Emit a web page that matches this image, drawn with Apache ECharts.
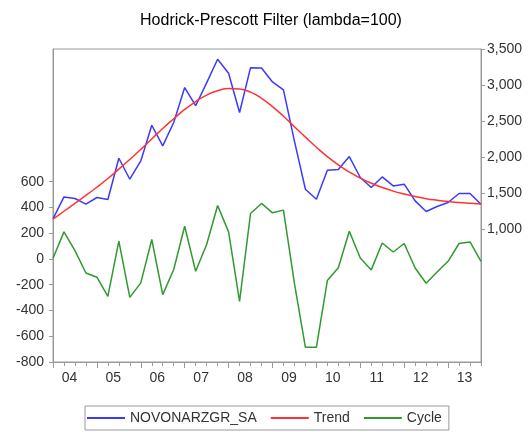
<!DOCTYPE html>
<html>
<head>
<meta charset="utf-8">
<script src="https://cdn.jsdelivr.net/npm/echarts@6/dist/echarts.min.js"></script>
<style>
  html, body { margin: 0; padding: 0; background: #fff; }
  #main { width: 531px; height: 432px; }
</style>
</head>
<body>
<div id="main"></div>
<script>
// year labels on the x axis (2004Q1 .. 2013Q4, quarterly)
const years = ["04", "05", "06", "07", "08", "09", "10", "11", "12", "13"];
const quarters = [];
years.forEach((y) => {
  ["Q1", "Q2", "Q3", "Q4"].forEach((q) => quarters.push("20" + y + q));
});

const seriesSA = [
  1140, 1444, 1422, 1343, 1436, 1408, 1982, 1690, 1944, 2440,
  2153, 2478, 2964, 2712, 3030, 3357, 3162, 2617, 3241, 3236,
  3042, 2931, 2220, 1551, 1412, 1815, 1825, 2005, 1714, 1575,
  1722, 1597, 1621, 1389, 1242, 1311, 1367, 1492, 1492, 1343,
];
const trend = [
  1135, 1245, 1355, 1465, 1580, 1700, 1830, 1965, 2105, 2250,
  2395, 2530, 2660, 2770, 2860, 2920, 2950, 2945, 2900, 2815,
  2700, 2565, 2420, 2275, 2135, 2005, 1890, 1790, 1705, 1635,
  1575, 1525, 1485, 1450, 1420, 1398, 1380, 1366, 1355, 1345,
];
const cycle = [
  5, 210, 65, -109, -142, -290, 138, -298, -186, 151,
  -277, -82, 254, -96, 112, 415, 210, -329, 353, 431,
  358, 379, -190, -686, -686, -168, -68, 215, 8, -85,
  124, 54, 120, -70, -189, -101, -18, 120, 132, -18,
];

const leftTicks = [-800, -600, -400, -200, 0, 200, 400, 600];
const rightTicks = [1000, 1500, 2000, 2500, 3000, 3500];

const toPairs = (arr) => arr.map((v, i) => [i, v]);
const quarterTicks = quarters.map((q, i) => i);
const yearTicks = years.map((y, i) => i * 4);
const yearLabelPos = years.map((y, i) => i * 4 + 1.5);

const axisGray = "#9a9a9a";
const labelColor = "#333";
const font = "Liberation Sans, Arial, sans-serif";

const chart = echarts.init(document.getElementById("main"));
const option = {
  animation: false,
  title: {
    text: "Hodrick-Prescott Filter (lambda=100)",
    left: 266,
    textAlign: "center",
    top: 8,
    textStyle: { fontSize: 16, fontWeight: "normal", color: "#000", fontFamily: font },
  },
  grid: {
    left: 53,
    right: 50,
    top: 49,
    bottom: 70,
    show: true,
    borderColor: axisGray,
    borderWidth: 1,
  },
  legend: {
    left: 85,
    top: 406,
    padding: [5, 7, 5, 2],
    itemGap: 14,
    itemWidth: 38,
    itemHeight: 2,
    icon: "rect",
    borderColor: axisGray,
    borderWidth: 1,
    borderRadius: 0,
    textStyle: { fontSize: 14, color: labelColor, fontFamily: font },
    data: ["NOVONARZGR_SA", "Trend", "Cycle"],
  },
  xAxis: [
    {
      type: "value",
      min: 0,
      max: quarters.length - 1,
      axisLine: { onZero: false, lineStyle: { color: axisGray } },
      axisTick: { customValues: quarterTicks, length: 4, lineStyle: { color: axisGray } },
      axisLabel: {
        customValues: yearLabelPos,
        formatter: (v) => years[Math.floor(v / 4)],
        color: labelColor,
        fontSize: 14,
        fontFamily: font,
        margin: 9,
      },
      splitLine: { show: false },
    },
    {
      type: "value",
      min: 0,
      max: quarters.length - 1,
      position: "bottom",
      axisLine: { show: false, onZero: false },
      axisTick: { customValues: yearTicks, length: 6, lineStyle: { color: axisGray } },
      axisLabel: { show: false },
      splitLine: { show: false },
    },
  ],
  yAxis: [
    {
      type: "value",
      position: "left",
      min: -800,
      max: 1630,
      axisLine: { show: true, onZero: false, lineStyle: { color: axisGray } },
      axisTick: { show: true, customValues: leftTicks, length: 4, lineStyle: { color: axisGray } },
      axisLabel: { customValues: leftTicks, color: labelColor, fontSize: 14, fontFamily: font, margin: 9 },
      splitLine: { show: false },
    },
    {
      type: "value",
      position: "right",
      min: -850,
      max: 3500,
      axisLine: { show: true, onZero: false, lineStyle: { color: axisGray } },
      axisTick: { show: true, customValues: rightTicks, length: 4, lineStyle: { color: axisGray } },
      axisLabel: {
        customValues: rightTicks,
        formatter: (v) => v.toLocaleString("en-US"),
        color: labelColor,
        fontSize: 14,
        fontFamily: font,
        margin: 6,
      },
      splitLine: { show: false },
    },
  ],
  series: [
    {
      name: "NOVONARZGR_SA",
      type: "line",
      yAxisIndex: 1,
      symbol: "none",
      lineStyle: { color: "#3a3aff", width: 1.5 },
      itemStyle: { color: "#3a3aff" },
      data: toPairs(seriesSA),
    },
    {
      name: "Trend",
      type: "line",
      yAxisIndex: 1,
      smooth: true,
      symbol: "none",
      lineStyle: { color: "#ff3333", width: 1.5 },
      itemStyle: { color: "#ff3333" },
      data: toPairs(trend),
    },
    {
      name: "Cycle",
      type: "line",
      yAxisIndex: 0,
      symbol: "none",
      lineStyle: { color: "#2f9a2f", width: 1.5 },
      itemStyle: { color: "#2f9a2f" },
      data: toPairs(cycle),
    },
  ],
};
chart.setOption(option);
window.addEventListener("resize", () => chart.resize());
</script>
</body>
</html>
